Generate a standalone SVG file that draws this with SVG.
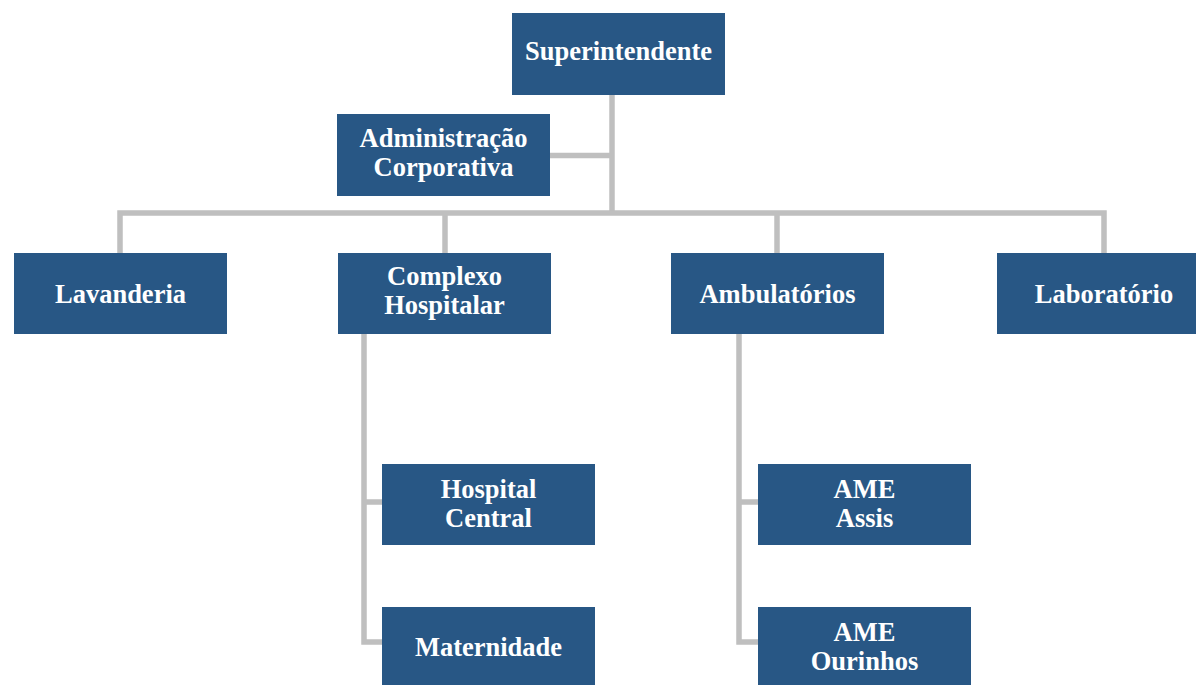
<svg xmlns="http://www.w3.org/2000/svg" width="1196" height="685" viewBox="0 0 1196 685">
<style>
.box{fill:#285785}
.t{font-family:"Liberation Serif","Times New Roman",serif;font-weight:bold;font-size:26.5px;fill:#ffffff;text-anchor:middle}
.c{fill:none;stroke:#bfbfbf;stroke-width:5.5}
</style>
<rect width="1196" height="685" fill="#ffffff"/>
<g id="connectors">
<path class="c" d="M612,95V213"/>
<path class="c" d="M550,155.5H612"/>
<path class="c" d="M120,253V213H1104V253"/>
<path class="c" d="M445,213V253"/>
<path class="c" d="M777,213V253"/>
<path class="c" d="M364,334V642H382M364,502H382"/>
<path class="c" d="M739,334V642H758M739,502H758"/>
</g>
<g id="superintendente"><rect class="box" x="512" y="13" width="213" height="82"/><text class="t" x="618.5" y="60">Superintendente</text></g>
<g id="administracao"><rect class="box" x="337" y="114" width="213" height="82"/><text class="t" x="443.5" y="147">Administração</text><text class="t" x="443.5" y="176">Corporativa</text></g>
<g id="lavanderia"><rect class="box" x="14" y="253" width="213" height="81"/><text class="t" x="120.5" y="302.5">Lavanderia</text></g>
<g id="complexo"><rect class="box" x="338" y="253" width="213" height="81"/><text class="t" x="444.5" y="285">Complexo</text><text class="t" x="444.5" y="314">Hospitalar</text></g>
<g id="ambulatorios"><rect class="box" x="671" y="253" width="213" height="81"/><text class="t" x="777.5" y="302.5">Ambulatórios</text></g>
<g id="laboratorio"><rect class="box" x="997" y="253" width="199" height="81"/><text class="t" x="1104" y="302.5">Laboratório</text></g>
<g id="hospital-central"><rect class="box" x="382" y="464" width="213" height="81"/><text class="t" x="488.5" y="498">Hospital</text><text class="t" x="488.5" y="527">Central</text></g>
<g id="maternidade"><rect class="box" x="382" y="607" width="213" height="78"/><text class="t" x="488.5" y="656">Maternidade</text></g>
<g id="ame-assis"><rect class="box" x="758" y="464" width="213" height="81"/><text class="t" x="864.5" y="498">AME</text><text class="t" x="864.5" y="527">Assis</text></g>
<g id="ame-ourinhos"><rect class="box" x="758" y="607" width="213" height="78"/><text class="t" x="864.5" y="641">AME</text><text class="t" x="864.5" y="670">Ourinhos</text></g>
</svg>
